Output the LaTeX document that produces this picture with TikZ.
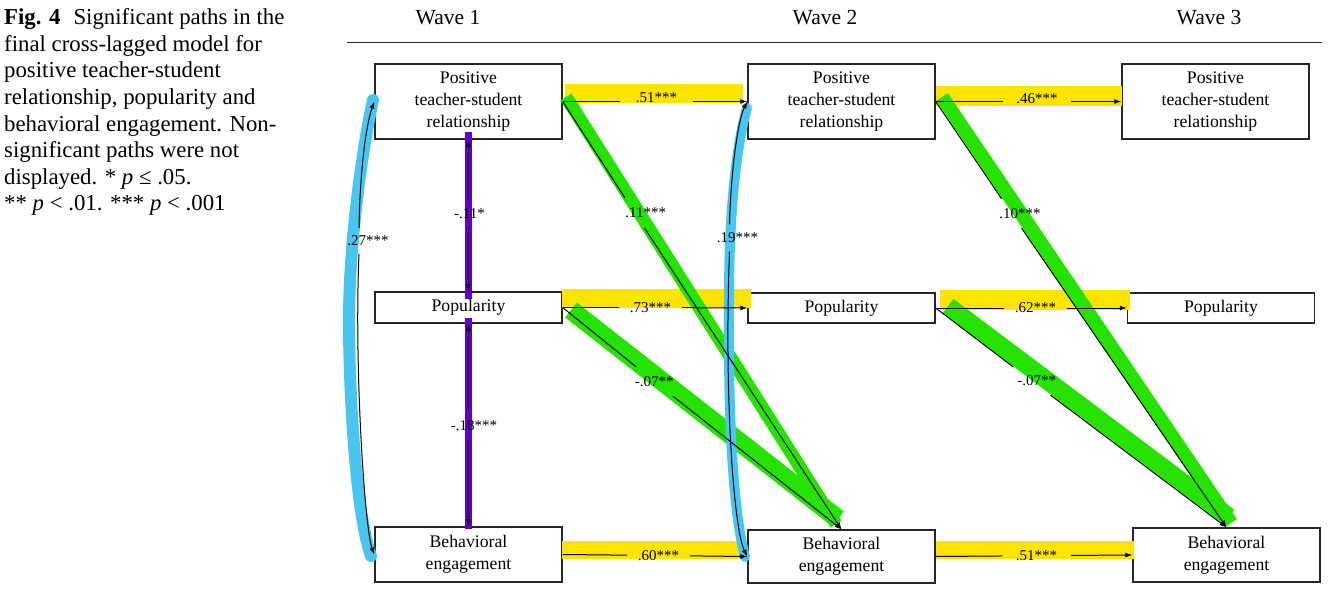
\documentclass[tikz,border=0pt]{standalone}
\usepackage{fontspec}
\setmainfont{Liberation Serif}
\usetikzlibrary{arrows.meta}
\definecolor{hlyellow}{RGB}{255,228,0}
\definecolor{hlgreen}{RGB}{38,226,0}
\definecolor{hlblue}{RGB}{72,198,240}
\definecolor{hlpurple}{RGB}{100,0,200}
\begin{document}
\begin{tikzpicture}[x=1pt,y=-1pt,
  box/.style={draw=black!85, line width=1.3pt, fill=white, inner sep=0pt, align=center,
    minimum width=187pt, font=\fontsize{17.7}{22}\selectfont},
  lab/.style={inner sep=0pt, font=\fontsize{15}{18}\selectfont},
  wave/.style={inner sep=0pt, font=\fontsize{21.5}{24}\selectfont},
  arr/.style={line width=1pt, -{Latex[length=7pt,width=5pt]}},
  ln/.style={line width=1pt},
  yband/.style={fill=hlyellow},
  gband/.style={draw=hlgreen, line cap=butt},
  bband/.style={draw=hlblue, line cap=round},
  pband/.style={draw=hlpurple, line width=7.5pt}
]
\useasboundingbox (0,0) rectangle (1331,594);

% caption
\node[anchor=north west, inner sep=0pt, align=left, font=\fontsize{22.8}{26.6}\selectfont] (cap) at (4,8.5)
 {\textbf{Fig. 4}\hspace{13pt}Significant paths in the\\
  final cross-lagged model for\\
  positive teacher-student\\
  relationship, popularity and\\
  behavioral engagement. Non-\\
  significant paths were not\\
  displayed. * \textit{p} ≤ .05.\\
  ** \textit{p} < .01. *** \textit{p} < .001};

% headings
\node[wave] (w1) at (448,18) {Wave 1};
\node[wave] (w2) at (825,18) {Wave 2};
\node[wave] (w3) at (1209,18) {Wave 3};
\draw[line width=1.3pt, black!85] (347,42.5) -- (1322,42.5);

% boxes
\node[box, minimum height=75pt] (p1) at (468.5,101.5) {Positive\\teacher-student\\relationship};
\node[box, minimum height=31pt] (q1) at (468.5,307.5) {Popularity};
\node[box, minimum height=55pt] (b1) at (468.5,554.5) {Behavioral\\engagement};
\node[box, minimum height=75pt] (p2) at (841.5,101.5) {Positive\\teacher-student\\relationship};
\node[box, minimum height=30pt] (q2) at (841.5,308) {Popularity};
\node[box, minimum height=53pt] (b2) at (841.5,556.5) {Behavioral\\engagement};
\node[box, minimum height=75pt] (p3) at (1215.5,101.5) {Positive\\teacher-student\\relationship};
\node[box, minimum height=30pt] (q3) at (1221,308) {Popularity};
\node[box, minimum height=54pt] (b3) at (1226.5,555) {Behavioral\\engagement};

% highlights
\fill[yband] (565,84) rectangle (743,103);
\fill[yband] (562,289) rectangle (751,308);
\fill[yband] (562,541) rectangle (743,559);
\fill[yband] (936,86) rectangle (1122,106);
\fill[yband] (940,290) rectangle (1130,310);
\fill[yband] (936,541) rectangle (1134,559);

\draw[gband, line width=13pt] (566,97) -- (836,524);
\draw[gband, line width=19pt] (571,310) -- (838,519);
\draw[gband, line width=14pt] (942,97) -- (1231,523);
\draw[gband, line width=18pt] (948,306) -- (1229,517);

\draw[pband] (468.5,132) -- (468.5,299);
\draw[pband] (468.5,318) -- (468.5,529);

\draw[bband, line width=12pt] (373,100) .. controls (362,150) and (348,250) .. (349,330)
   .. controls (350,420) and (358,520) .. (371,556);
\draw[bband, line width=10pt] (747,108) .. controls (735,150) and (729,220) .. (729,300)
   .. controls (728,420) and (733,510) .. (745,557);

% path labels (they also make the gaps in the lines)
\node[lab, minimum width=73pt] (l51) at (656.5,101.5) {\raisebox{7pt}{.51***}};
\node[lab, minimum width=63pt] (l73) at (650.5,307.5) {.73***};
\node[lab, minimum width=63pt] (l60) at (658.5,555.5) {.60***};
\node[lab, minimum width=68pt] (l46) at (1037,101.5) {\raisebox{5pt}{.46***}};
\node[lab, minimum width=63pt] (l62) at (1035.5,308) {.62***};
\node[lab, minimum width=69pt] (l51b) at (1036.5,555.7) {.51***};

\node[lab, minimum height=30pt] (l11) at (634.7,213) {\hspace*{22pt}.11***};
\node[lab, minimum height=29pt, minimum width=46pt] (l07a) at (654.3,381.5) {-.07**};
\node[lab, minimum height=29pt] (l10) at (1011.6,213.5) {\hspace*{17pt}.10***};
\node[lab, minimum height=28pt] (l07b) at (1031.7,381) {\hspace*{10pt}-.07**};

\node[lab, minimum height=27pt] (l11n) at (468.5,213.5) {\hspace*{2pt}-.11*};
\node[lab, minimum height=29pt] (l18) at (468.5,425.5) {\hspace*{11pt}-.18***};

\node[lab, minimum height=26pt] (l27) at (359,241) {\hspace*{18pt}.27***};
\node[lab, minimum height=27pt] (l19) at (729.5,238) {\hspace*{16pt}.19***};

% stability paths
\draw[ln] (p1.east) -- (l51); \draw[arr] (l51) -- (p2.west);
\draw[ln] (q1.east) -- (l73); \draw[arr] (l73) -- (q2.west);
\draw[ln] (b1.east) -- (l60); \draw[arr] (l60) -- (b2.west);
\draw[ln] (p2.east) -- (l46); \draw[arr] (l46) -- (p3.west);
\draw[ln] (q2.east) -- (l62); \draw[arr] (l62) -- (q3.west);
\draw[ln] (b2.east) -- (l51b); \draw[arr] (l51b) -- (b3.west);

% cross-lagged paths
\draw[ln] (p1.east) -- (l11); \draw[arr] (l11) -- (b2.north);
\draw[ln] (q1.east) -- (l07a); \draw[arr] (l07a) -- (b2.north);
\draw[ln] (p2.east) -- (l10); \draw[arr] (l10) -- (b3.north);
\draw[ln] (q2.east) -- (l07b); \draw[arr] (l07b) -- (b3.north);

% within-wave correlations
\draw[arr] (l11n) -- (p1.south); \draw[arr] (l11n) -- (q1.north);
\draw[arr] (l18) -- (q1.south); \draw[arr] (l18) -- (b1.north);

\draw[arr] (l27.north) .. controls (360,170) and (366,125) .. (p1.west);
\draw[arr] (l27.south) .. controls (354,370) and (365,530) .. (b1.west);
\draw[arr] (l19.north) .. controls (731,170) and (738,120) .. (p2.west);
\draw[arr] (l19.south) .. controls (724,400) and (734,530) .. (b2.west);
\end{tikzpicture}
\end{document}
